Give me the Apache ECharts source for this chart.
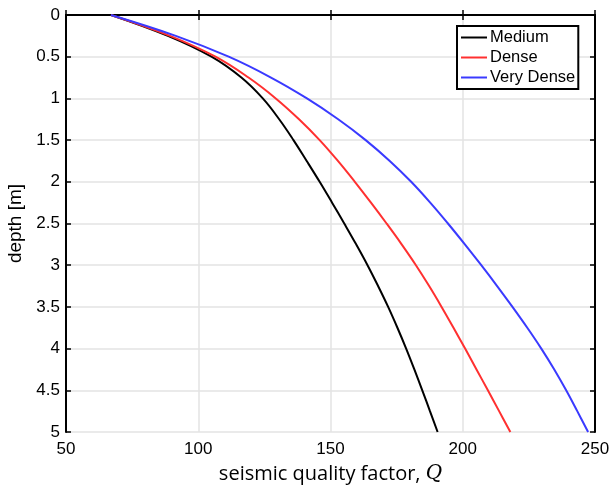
<!DOCTYPE html>
<html>
<head>
<meta charset="utf-8">
<script src="https://cdn.jsdelivr.net/npm/echarts@6/dist/echarts.min.js"></script>
<style>
html,body{margin:0;padding:0;background:#fff;}
#chart{width:615px;height:486px;}
</style>
</head>
<body>
<div id="chart"></div>
<script>
// depth [m]
var depths = [0, 0.25, 0.5, 0.75, 1, 1.25, 1.5, 1.75, 2, 2.25, 2.5, 2.75, 3, 3.25, 3.5, 3.75, 4, 4.25, 4.5, 4.75, 5];
// seismic quality factor Q for each soil type
var medium    = [67, 88.5, 105, 116.3, 124.4, 130.6, 136, 141, 145.9, 150.6, 155.2, 159.7, 164, 168, 171.8, 175.3, 178.6, 181.7, 184.7, 187.6, 190.5];
var dense     = [67, 89.3, 106.5, 119, 129.3, 138.1, 145.9, 152.8, 159.2, 165.3, 171.2, 176.9, 182.3, 187.3, 192, 196.5, 200.9, 205.2, 209.5, 213.75, 218];
var veryDense = [67, 91.5, 111.5, 127.5, 141.1, 152.9, 163.3, 172.4, 180.5, 187.7, 194.4, 200.8, 207, 213, 218.8, 224.4, 229.7, 234.6, 239.1, 243.3, 247.4];
var seriesNames = ['Medium', 'Dense', 'Very Dense'];
var xTicks = [50, 100, 150, 200, 250];
var yTicks = [0, 0.5, 1, 1.5, 2, 2.5, 3, 3.5, 4, 4.5, 5];

function pairs(q) { return q.map(function (v, i) { return [v, depths[i]]; }); }

var font = "'Liberation Sans', Arial, sans-serif";
var chart = echarts.init(document.getElementById('chart'), null, {renderer: 'canvas'});

var frameLine = {show: true, lineStyle: {color: '#000', width: 2}};
var tick = {show: true, inside: true, length: 5, lineStyle: {color: '#000', width: 1.5}};
var split = {show: true, lineStyle: {color: '#e3e3e3', width: 1.5}};

chart.setOption({
  animation: false,
  backgroundColor: '#fff',
  grid: {left: 66, top: 15, width: 529, height: 417, containLabel: false, outerBoundsMode: 'none'},
  legend: {
    data: seriesNames,
    orient: 'vertical',
    left: 457, top: 26,
    padding: [3, 3, 3, 4],
    itemGap: 3,
    icon: 'rect',
    itemWidth: 26, itemHeight: 2,
    borderColor: '#000', borderWidth: 2,
    backgroundColor: '#fff',
    textStyle: {fontFamily: font, fontSize: 16.5, color: '#000', lineHeight: 17, padding: [0, 0, 0, -2]}
  },
  xAxis: [{
    type: 'value', position: 'bottom',
    min: xTicks[0], max: xTicks[xTicks.length - 1], interval: 50,
    axisLine: frameLine, axisTick: tick, splitLine: split,
    axisLabel: {fontFamily: font, fontSize: 17, color: '#000', margin: 9,
      formatter: function (v) { return xTicks.indexOf(v) >= 0 ? String(v) : ''; }},
    name: 'seismic quality factor, {q|Q}',
    nameLocation: 'middle', nameGap: 32,
    nameTextStyle: {fontFamily: "'Open Sans', 'Noto Sans', sans-serif", fontSize: 20, color: '#000',
      rich: {q: {fontFamily: "'DejaVu Serif', 'Liberation Serif', serif", fontStyle: 'italic', fontSize: 20, color: '#000'}}}
  }, {
    type: 'value', position: 'top',
    min: xTicks[0], max: xTicks[xTicks.length - 1], interval: 50,
    axisLine: frameLine, axisTick: tick, axisLabel: {show: false}, splitLine: {show: false}
  }],
  yAxis: [{
    type: 'value', position: 'left', inverse: true,
    min: yTicks[0], max: yTicks[yTicks.length - 1], interval: 0.5,
    axisLine: frameLine, axisTick: tick, splitLine: split,
    axisLabel: {fontFamily: font, fontSize: 17, color: '#000', margin: 6,
      formatter: function (v) { return String(v); }},
    name: 'depth [m]', nameLocation: 'middle', nameGap: 39, nameRotate: 90,
    nameTextStyle: {fontFamily: font, fontSize: 19, color: '#000'}
  }, {
    type: 'value', position: 'right', inverse: true,
    min: yTicks[0], max: yTicks[yTicks.length - 1], interval: 0.5,
    axisLine: frameLine, axisTick: tick, axisLabel: {show: false}, splitLine: {show: false}
  }],
  series: [
    {name: seriesNames[0], type: 'line', data: pairs(medium), smooth: 0.4, symbol: 'none',
     lineStyle: {color: '#000000', width: 2}, itemStyle: {color: '#000000'}},
    {name: seriesNames[1], type: 'line', data: pairs(dense), smooth: 0.4, symbol: 'none',
     lineStyle: {color: '#ff3030', width: 2}, itemStyle: {color: '#ff3030'}},
    {name: seriesNames[2], type: 'line', data: pairs(veryDense), smooth: 0.4, symbol: 'none',
     lineStyle: {color: '#3a3aff', width: 2}, itemStyle: {color: '#3a3aff'}}
  ]
});
</script>
</body>
</html>
